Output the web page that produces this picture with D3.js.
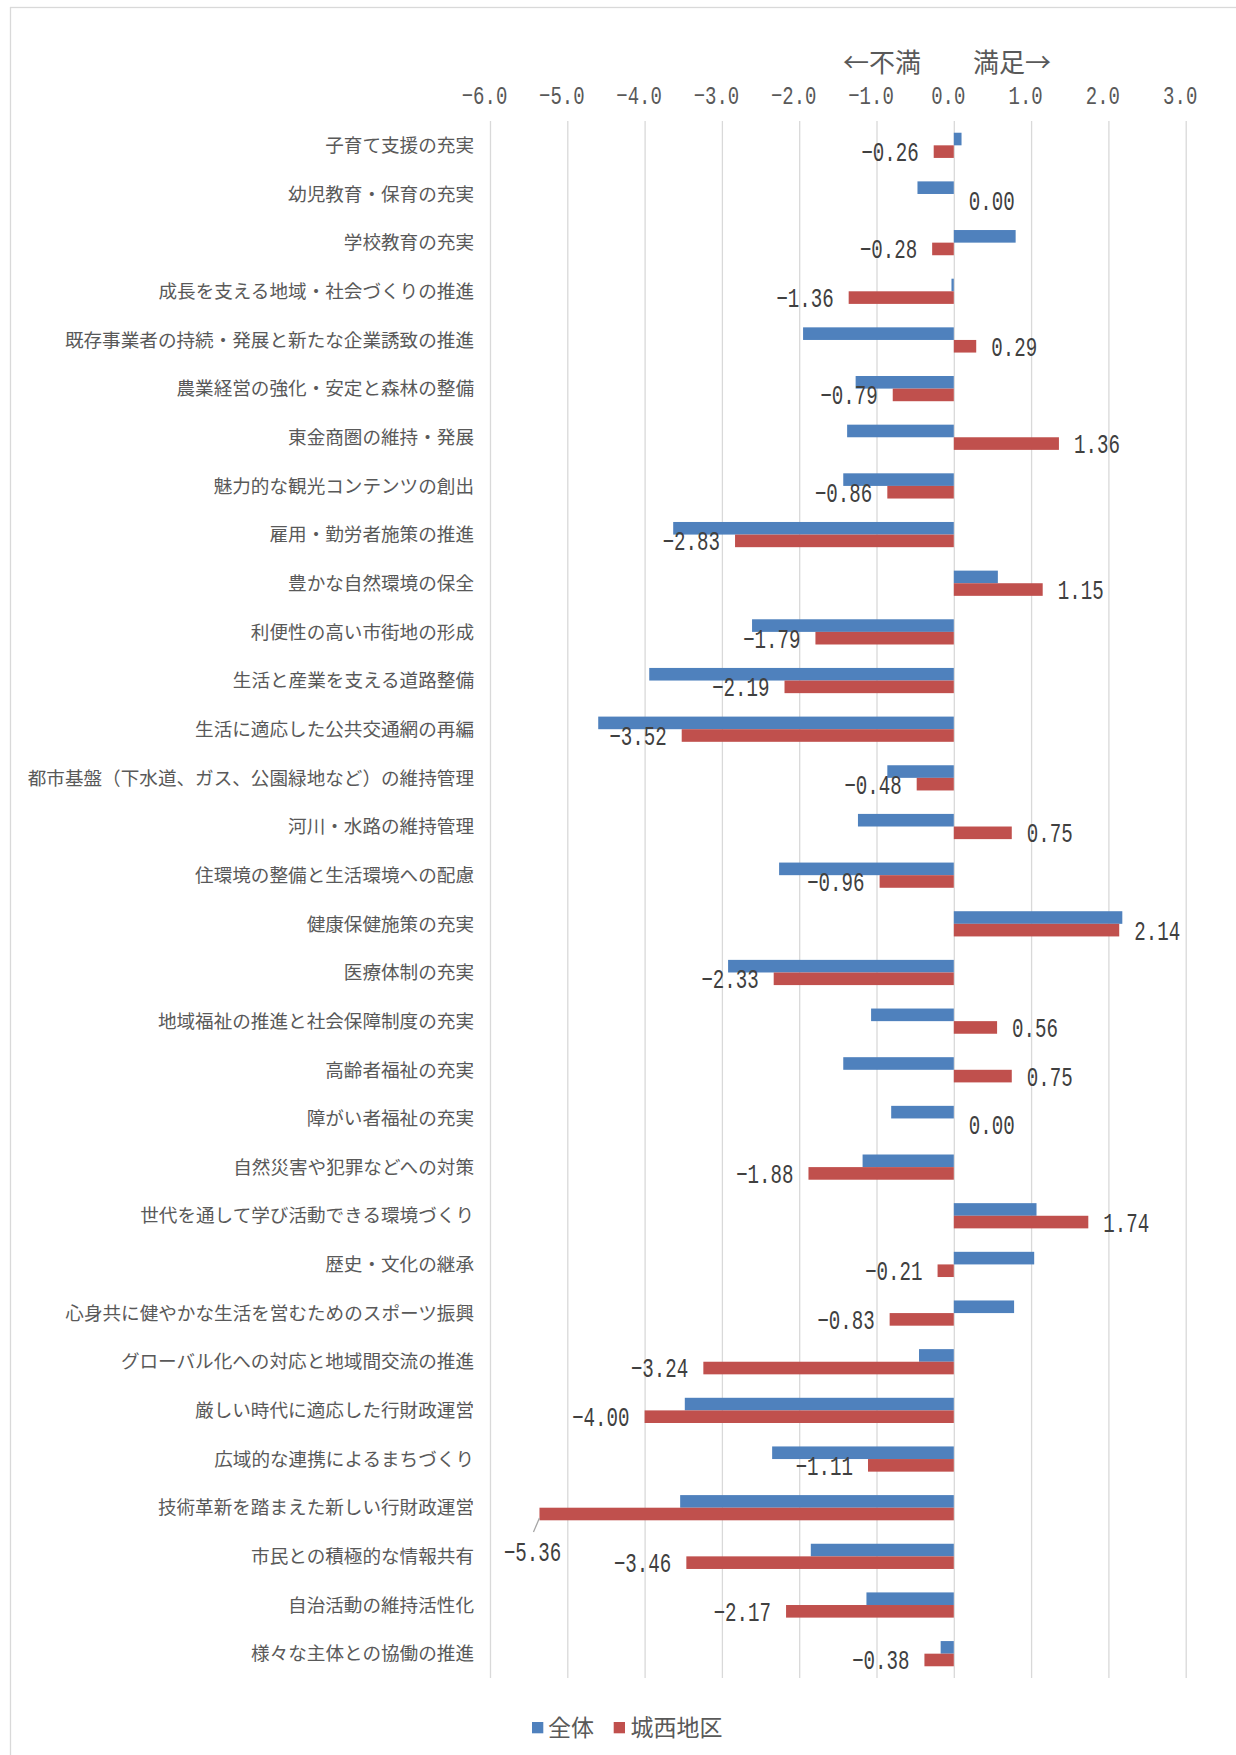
<!DOCTYPE html>
<html lang="ja">
<head>
<meta charset="utf-8">
<script src="https://cdn.jsdelivr.net/npm/d3@7"></script>
<style>
  html, body { margin: 0; padding: 0; background: #ffffff; }
  svg { display: block; }
</style>
</head>
<body>
<svg id="chart" width="1236" height="1755"></svg>
<script>
// ---- data ----
const categories = [
  "子育て支援の充実",
  "幼児教育・保育の充実",
  "学校教育の充実",
  "成長を支える地域・社会づくりの推進",
  "既存事業者の持続・発展と新たな企業誘致の推進",
  "農業経営の強化・安定と森林の整備",
  "東金商圏の維持・発展",
  "魅力的な観光コンテンツの創出",
  "雇用・勤労者施策の推進",
  "豊かな自然環境の保全",
  "利便性の高い市街地の形成",
  "生活と産業を支える道路整備",
  "生活に適応した公共交通網の再編",
  "都市基盤（下水道、ガス、公園緑地など）の維持管理",
  "河川・水路の維持管理",
  "住環境の整備と生活環境への配慮",
  "健康保健施策の充実",
  "医療体制の充実",
  "地域福祉の推進と社会保障制度の充実",
  "高齢者福祉の充実",
  "障がい者福祉の充実",
  "自然災害や犯罪などへの対策",
  "世代を通して学び活動できる環境づくり",
  "歴史・文化の継承",
  "心身共に健やかな生活を営むためのスポーツ振興",
  "グローバル化への対応と地域間交流の推進",
  "厳しい時代に適応した行財政運営",
  "広域的な連携によるまちづくり",
  "技術革新を踏まえた新しい行財政運営",
  "市民との積極的な情報共有",
  "自治活動の維持活性化",
  "様々な主体との協働の推進"
];
const seriesNames = ["全体", "城西地区"];
const zentai = [0.10, -0.47, 0.80, -0.03, -1.95, -1.27, -1.38, -1.43, -3.63, 0.57,
                -2.61, -3.94, -4.60, -0.86, -1.24, -2.26, 2.18, -2.92, -1.07, -1.43,
                -0.81, -1.18, 1.07, 1.04, 0.78, -0.45, -3.48, -2.35, -3.54, -1.85,
                -1.13, -0.17];
const josai = [-0.26, 0.00, -0.28, -1.36, 0.29, -0.79, 1.36, -0.86, -2.83, 1.15,
               -1.79, -2.19, -3.52, -0.48, 0.75, -0.96, 2.14, -2.33, 0.56, 0.75,
               0.00, -1.88, 1.74, -0.21, -0.83, -3.24, -4.00, -1.11, -5.36, -3.46,
               -2.17, -0.38];
const tickValues = [-6, -5, -4, -3, -2, -1, 0, 1, 2, 3];
const axisTitle = "←不満　　満足→";

// ---- layout / style ----
const colors = { "全体": "#4F81BD", "城西地区": "#C0504D" };
const plot = { left: 490, right: 1185.7, top: 121, bottom: 1678 };
const labelRight = 474;
const numFont = "'Liberation Mono', 'DejaVu Sans Mono', monospace";
const jpFont = "'Noto Sans CJK JP', 'Noto Sans', sans-serif";
const numScaleX = 0.71;

const svg = d3.select("#chart");

// chart border (cropped on right/bottom like the reference)
svg.append("rect")
  .attr("x", 10.5).attr("y", 7.5)
  .attr("width", 1400).attr("height", 2000)
  .attr("fill", "#ffffff").attr("stroke", "#d9d9d9").attr("stroke-width", 1.3);

const x = d3.scaleLinear().domain([-6, 3]).range([plot.left, plot.right]);
const y = d3.scaleBand().domain(categories).range([plot.top, plot.bottom]).padding(0);
const ySub = d3.scaleBand().domain(seriesNames).range([0, y.bandwidth()])
  .paddingInner(0).paddingOuter(0.93);

// gridlines
const grid = svg.append("g")
  .attr("transform", `translate(0,${plot.top})`)
  .call(d3.axisBottom(x).tickValues(tickValues).tickSize(plot.bottom - plot.top).tickFormat(""));
grid.select(".domain").remove();
grid.selectAll(".tick line").attr("stroke", "#d9d9d9").attr("stroke-width", 1.3);

// top tick labels
const topAxis = svg.append("g")
  .attr("transform", `translate(-6,95.5)`)
  .call(d3.axisTop(x).tickValues(tickValues).tickSize(0).tickPadding(0).tickFormat(d3.format(".1f")));
topAxis.select(".domain").remove();
topAxis.selectAll(".tick text")
  .attr("y", 0).attr("dy", "0.34em")
  .attr("transform", `scale(0.73,1)`)
  .attr("text-anchor", "middle")
  .style("font-family", numFont).style("font-size", "26px")
  .attr("fill", "#595959");

// axis title
svg.append("text")
  .attr("x", 947).attr("y", 62.5).attr("dy", "0.36em")
  .attr("text-anchor", "middle")
  .style("font-family", jpFont).style("font-size", "26px")
  .attr("fill", "#595959")
  .text(axisTitle);

// category labels
const leftAxis = svg.append("g")
  .attr("transform", `translate(${labelRight},0)`)
  .call(d3.axisLeft(y).tickSize(0).tickPadding(0));
leftAxis.select(".domain").remove();
leftAxis.selectAll(".tick text")
  .attr("x", 0).attr("dy", "0.36em")
  .style("font-family", jpFont).style("font-size", "18.6px")
  .attr("fill", "#595959");

// bars
const rows = categories.map((c, i) => ({ cat: c, vals: [zentai[i], josai[i]] }));
const rowG = svg.append("g").selectAll("g.row").data(rows).join("g")
  .attr("class", "row")
  .attr("transform", d => `translate(0,${y(d.cat)})`);

rowG.selectAll("rect").data(d => seriesNames.map((s, k) => ({ s, v: d.vals[k] }))).join("rect")
  .attr("x", d => x(Math.min(0, d.v)))
  .attr("y", d => ySub(d.s))
  .attr("width", d => Math.abs(x(d.v) - x(0)))
  .attr("height", ySub.bandwidth())
  .attr("fill", d => colors[d.s]);

// data labels (城西地区 only)
const fmt = d3.format(".2f");
const gap = 15;
const charW = 11.6;
const labelsG = svg.append("g");
rows.forEach(r => {
  const v = r.vals[1];
  const cy = y(r.cat) + ySub("城西地区") + ySub.bandwidth() / 2;
  const xe = x(v);
  const txt = fmt(v);
  const w = txt.length * charW;
  let lx, ly, anchor;
  if (v >= 0) { lx = xe + gap; ly = cy; anchor = "start"; }
  else { lx = xe - gap; ly = cy; anchor = "end"; }
  if (v < 0 && lx - w < plot.left) {
    // moved below with a leader line, as in the reference
    lx = xe - 7; ly = cy + 38; anchor = "middle";
    labelsG.append("line")
      .attr("x1", xe).attr("y1", cy + 4)
      .attr("x2", xe - 6).attr("y2", cy + 18)
      .attr("stroke", "#a6a6a6").attr("stroke-width", 1.3);
  }
  labelsG.append("g").attr("transform", `translate(${lx},${ly})`)
    .append("text")
    .attr("transform", `scale(${numScaleX},1)`)
    .attr("text-anchor", anchor)
    .attr("dy", "0.35em")
    .style("font-family", numFont).style("font-size", "27px")
    .attr("fill", "#404040")
    .text(txt);
});

// legend
const legend = svg.append("g");
const legendItems = [
  { name: "全体", sx: 532, tx: 548 },
  { name: "城西地区", sx: 613.7, tx: 630.5 }
];
legendItems.forEach(it => {
  legend.append("rect")
    .attr("x", it.sx).attr("y", 1722).attr("width", 11.3).attr("height", 11.3)
    .attr("fill", colors[it.name]);
  legend.append("text")
    .attr("x", it.tx).attr("y", 1728).attr("dy", "0.36em")
    .style("font-family", jpFont).style("font-size", "23px")
    .attr("fill", "#595959")
    .text(it.name);
});
</script>
</body>
</html>
